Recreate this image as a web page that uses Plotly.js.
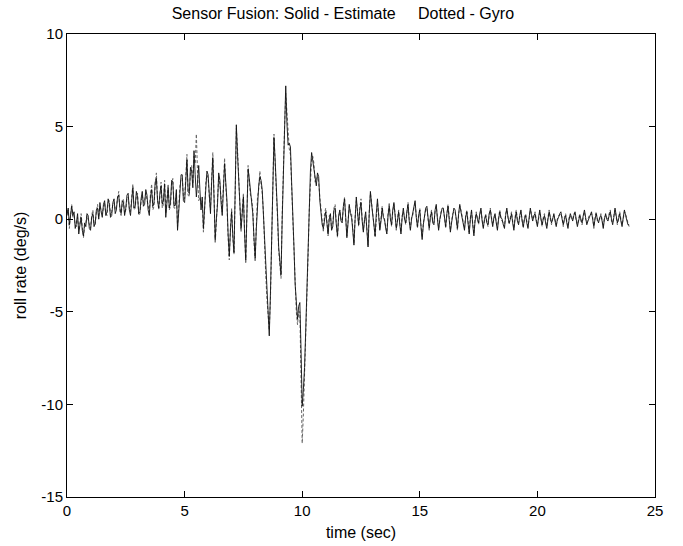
<!DOCTYPE html>
<html>
<head>
<meta charset="utf-8">
<script src="https://cdn.plot.ly/plotly-3.0.1.min.js"></script>
<style>html,body{margin:0;padding:0;background:#fff;}#chart{width:683px;height:546px;}</style>
</head>
<body>
<div id="chart"></div>
<script>
// sampling interval of the recording (seconds)
var sampleStep = 0.05;

// roll rate estimate (deg/s), one value per 0.05 s starting at t = 0 (one row per second)
var estimate = [
 0.2,0.6,-0.3,0.1,0.7,0.2,0.4,-0.5,-0.2,0.3,-0.8,-0.3,0.1,-0.6,-0.9,-0.2,-0.4,0.3,0.2,-0.5,
 -0.6,0.1,0.3,-0.4,-0.2,0.5,0.6,0.0,0.9,0.4,0.1,0.8,1.0,0.2,0.4,1.1,0.8,0.1,0.2,0.9,
 1.1,0.3,0.5,1.2,1.3,0.6,0.3,1.0,0.9,0.2,0.6,1.3,1.4,0.5,0.2,1.0,1.7,0.6,0.7,1.5,
 1.2,0.3,0.4,1.1,1.5,0.7,0.8,1.6,1.3,0.5,0.2,1.2,1.6,0.7,0.9,2.0,2.2,1.0,0.6,1.4,
 1.8,0.8,1.0,1.9,0.1,0.9,1.7,0.6,0.9,2.1,2.0,0.7,0.8,1.6,-0.6,0.4,1.5,2.4,2.4,1.0,
 0.9,2.1,3.2,1.5,1.4,2.8,2.6,1.7,3.7,2.4,1.2,2.0,2.9,1.6,0.5,1.2,-0.5,0.6,1.8,2.6,
 2.4,1.0,0.3,2.0,3.3,1.2,-1.1,0.0,0.8,2.5,2.1,0.9,0.2,1.6,3.0,2.0,1.0,-0.8,-2.0,-0.6,
 0.4,-0.9,-1.8,1.5,5.1,3.5,2.0,0.6,-0.5,0.3,1.2,-0.8,-2.2,0.4,2.7,2.2,1.5,0.9,0.3,-1.0,
 -2.1,-0.5,1.0,1.8,2.3,2.1,1.6,0.2,-1.5,-2.8,-4.0,-5.5,-6.3,-4.0,-1.0,1.8,4.4,3.2,2.0,0.3,
 -1.5,-2.4,-3.0,0.0,3.0,5.5,7.2,5.2,4.0,4.1,3.9,2.0,0.5,-1.5,-3.5,-4.8,-5.4,-4.7,-4.5,-7.0,
 -10.1,-9.2,-8.0,-6.0,-4.0,-1.5,1.0,2.6,3.6,3.2,2.8,2.2,1.8,2.5,2.3,1.0,0.2,-0.3,-0.5,0.1,
 0.4,-0.2,-0.8,0.0,0.3,-0.6,-0.4,0.5,0.6,-0.3,-0.9,0.2,0.5,-0.1,-0.2,0.7,1.1,0.1,-1.0,-0.2,
 0.8,0.3,0.1,-0.6,-1.4,0.0,1.2,0.4,-0.3,0.5,0.9,-0.1,-0.7,0.0,0.4,-0.6,-1.5,0.3,1.5,0.8,
 0.2,-0.4,-0.9,0.3,1.1,0.2,-0.6,-0.1,0.6,0.1,0.0,-0.5,-0.8,0.2,0.7,0.0,-0.3,0.5,0.9,0.2,
 -0.5,-0.1,0.4,-0.3,-0.8,0.1,0.6,0.0,-0.2,0.4,0.8,-0.1,-0.6,0.0,0.3,0.7,1.0,0.1,-0.4,0.2,
 0.5,-0.4,-1.1,-0.3,0.2,0.6,0.7,-0.1,-0.5,0.1,0.4,-0.2,-0.3,0.5,0.8,0.0,-0.6,0.0,0.3,0.6,
 0.6,0.0,-0.4,0.3,0.7,0.0,-0.7,-0.2,0.2,0.6,0.5,-0.1,-0.5,0.3,0.8,0.4,0.1,-0.3,-0.6,0.1,
 0.4,-0.2,-0.8,0.0,0.5,-0.3,-0.9,-0.1,0.3,0.0,-0.2,0.3,0.6,-0.1,-0.5,0.0,0.2,-0.2,-0.3,0.3,
 0.5,0.0,-0.4,0.1,0.3,-0.2,-0.6,0.0,0.4,0.1,0.0,-0.3,-0.5,0.2,0.6,0.1,-0.2,0.0,0.3,-0.2,
 -0.6,0.0,0.4,-0.1,-0.3,0.2,0.5,-0.1,-0.4,0.0,0.2,-0.2,-0.5,0.1,0.6,0.2,-0.1,0.2,0.3,-0.1,
 -0.4,0.1,0.5,0.0,-0.3,0.0,0.2,-0.2,-0.5,0.0,0.4,0.1,-0.2,0.0,0.3,-0.1,-0.4,0.0,0.1,0.3,
 0.4,0.0,-0.3,0.0,0.2,-0.2,-0.5,0.0,0.3,0.1,-0.1,0.2,0.4,0.0,-0.4,-0.1,0.2,0.0,-0.2,0.2,
 0.5,0.1,-0.3,-0.1,0.1,0.3,0.4,0.0,-0.4,0.0,0.3,0.0,-0.2,0.1,0.2,-0.1,-0.5,0.0,0.3,0.0,
 -0.1,0.2,0.4,0.0,-0.3,0.1,0.6,0.2,-0.2,0.0,0.3,-0.1,-0.4,0.1,0.5,0.2,-0.1,-0.3,-0.3
];

// raw gyro roll rate (deg/s), same sampling
var gyro = [
 0.4,0.5,-0.5,0.2,0.8,0.1,0.2,-0.3,-0.4,0.1,-0.6,-0.2,0.3,-0.4,-1.0,-0.4,-0.2,0.2,0.0,-0.3,
 -0.5,0.2,0.5,-0.2,-0.3,0.4,0.8,0.1,0.7,0.5,0.3,0.6,0.9,0.3,0.2,0.9,1.0,0.2,0.4,0.8,
 0.9,0.5,0.7,1.1,1.5,0.4,0.2,0.8,1.1,0.3,0.5,1.1,1.2,0.6,0.4,1.2,1.9,0.5,0.6,1.3,
 1.4,0.2,0.3,0.9,1.3,0.9,1.0,1.4,1.1,0.7,0.4,1.4,1.9,0.5,0.7,1.8,2.5,1.1,0.5,1.2,
 2.0,0.6,0.8,2.1,0.3,1.1,1.9,0.5,0.7,1.9,2.2,0.6,0.6,1.4,-0.4,0.6,1.8,2.2,2.2,1.2,
 1.1,2.3,3.5,1.3,1.2,2.6,2.9,1.9,3.4,3.0,4.6,2.5,1.0,1.2,0.8,1.0,-0.7,0.4,2.0,2.4,
 2.2,1.2,0.5,2.2,3.6,1.4,-1.3,-0.2,1.0,2.3,1.9,1.1,0.4,1.8,3.3,1.8,0.8,-1.0,-2.2,-0.4,
 0.6,-1.0,-1.9,1.3,4.9,3.8,2.3,0.4,-0.7,0.5,1.4,-0.6,-2.4,0.2,2.9,2.0,1.3,1.1,0.5,-1.2,
 -2.3,-0.3,1.2,1.6,2.6,1.9,1.4,0.4,-1.8,-3.0,-4.3,-5.2,-6.0,-4.3,-1.3,1.5,4.6,3.0,1.8,0.1,
 -1.7,-2.6,-3.2,0.3,3.3,5.0,6.8,5.6,4.3,3.8,3.5,1.7,0.2,-1.8,-3.8,-5.0,-5.7,-5.0,-5.0,-8.0,
 -12.1,-10.5,-8.6,-6.8,-4.8,-2.0,0.5,2.2,3.3,3.4,3.0,2.0,2.1,2.3,2.0,1.2,0.4,-0.4,-0.7,0.3,
 0.6,-0.1,-0.9,0.2,0.2,-0.5,-0.3,0.6,0.8,-0.2,-1.0,0.1,0.4,0.0,-0.1,0.6,1.2,0.0,-0.9,-0.1,
 0.7,0.4,0.3,-0.5,-1.3,0.1,1.0,0.5,-0.4,0.6,1.1,0.0,-0.6,-0.1,0.2,-0.5,-1.4,0.4,1.4,0.9,
 0.4,-0.3,-1.0,0.1,0.9,0.3,-0.5,0.0,0.7,0.2,-0.1,-0.4,-0.7,0.3,0.9,0.1,-0.4,0.4,0.8,0.3,
 -0.6,0.0,0.5,-0.2,-0.7,0.2,0.4,0.1,-0.3,0.3,0.9,0.0,-0.5,0.1,0.2,0.6,0.9,0.2,-0.5,0.1,
 0.6,-0.3,-1.0,-0.2,0.3,0.5,0.6,0.0,-0.6,0.2,0.5,-0.1,-0.2,0.4,0.7,0.1,-0.5,-0.1,0.4,0.5,
 0.5,0.1,-0.5,0.2,0.8,0.1,-0.6,-0.1,0.3,0.4,0.4,0.0,-0.6,0.2,0.7,0.5,0.2,-0.2,-0.5,0.2,
 0.5,-0.1,-0.7,0.1,0.4,-0.2,-0.8,0.0,0.4,0.1,-0.3,0.2,0.5,0.0,-0.4,-0.1,0.3,-0.1,-0.4,0.2,
 0.6,0.1,-0.3,0.0,0.2,-0.1,-0.5,0.1,0.5,0.0,-0.1,-0.2,-0.4,0.3,0.5,0.0,-0.3,0.1,0.4,-0.1,
 -0.5,0.1,0.5,0.0,-0.2,0.1,0.4,0.0,-0.5,0.1,0.3,-0.1,-0.4,0.0,0.5,0.3,0.0,0.1,0.4,0.0,
 -0.3,0.0,0.4,0.1,-0.4,0.1,0.3,-0.1,-0.4,0.1,0.5,0.0,-0.3,0.1,0.2,0.0,-0.3,-0.1,0.2,0.2,
 0.3,0.1,-0.4,0.1,0.3,-0.1,-0.4,0.1,0.2,0.0,0.0,0.3,0.3,-0.1,-0.3,0.0,0.3,-0.1,-0.3,0.1,
 0.4,0.0,-0.2,0.0,0.2,0.2,0.3,0.1,-0.5,0.1,0.4,-0.1,-0.1,0.0,0.3,0.0,-0.4,0.1,0.2,0.1,
 0.0,0.3,0.5,-0.1,-0.2,0.2,0.5,0.1,-0.3,0.1,0.4,0.0,-0.3,0.0,0.4,0.3,0.0,-0.2,-0.4
];

var xTickVals = [0, 5, 10, 15, 20, 25];
var yTickVals = [-15, -10, -5, 0, 5, 10];

var timeEst = estimate.map(function(_, i){ return +(i * sampleStep).toFixed(3); });
var timeGyro = gyro.map(function(_, i){ return +(i * sampleStep).toFixed(3); });

var FONT = 'Liberation Sans, Arial, Helvetica, sans-serif';

var traces = [
  {x: timeGyro, y: gyro, type: 'scatter', mode: 'lines', name: 'Gyro',
   line: {color: '#666666', width: 1, dash: '3px,2px'}},
  {x: timeEst, y: estimate, type: 'scatter', mode: 'lines', name: 'Estimate',
   line: {color: '#111111', width: 0.9}}
];

var axisCommon = {
  showline: true, linecolor: '#000', linewidth: 1, mirror: 'ticks',
  ticks: 'inside', ticklen: 6, tickcolor: '#000', tickwidth: 1,
  showgrid: false, zeroline: false,
  tickfont: {family: FONT, size: 15, color: '#000'}
};

var layout = {
  width: 683, height: 546,
  margin: {l: 67, r: 28, t: 34, b: 49},
  paper_bgcolor: '#fff', plot_bgcolor: '#fff',
  showlegend: false,
  title: {text: 'Sensor Fusion: Solid - Estimate\u00a0\u00a0\u00a0\u00a0\u00a0Dotted - Gyro',
          font: {family: FONT, size: 16, color: '#000'},
          x: 0.502, xanchor: 'center', y: 0.976, yanchor: 'middle'},
  xaxis: Object.assign({}, axisCommon, {
    range: [0, 25], tickvals: xTickVals, ticktext: xTickVals.map(String),
    title: {text: 'time (sec)', font: {family: FONT, size: 16, color: '#000'}, standoff: 8}
  }),
  yaxis: Object.assign({}, axisCommon, {
    range: [-15, 10], tickvals: yTickVals, ticktext: yTickVals.map(String),
    title: {text: 'roll rate (deg/s)', font: {family: FONT, size: 16, color: '#000'}, standoff: 10}
  })
};

Plotly.newPlot('chart', traces, layout, {displayModeBar: false, staticPlot: true});
</script>
</body>
</html>
